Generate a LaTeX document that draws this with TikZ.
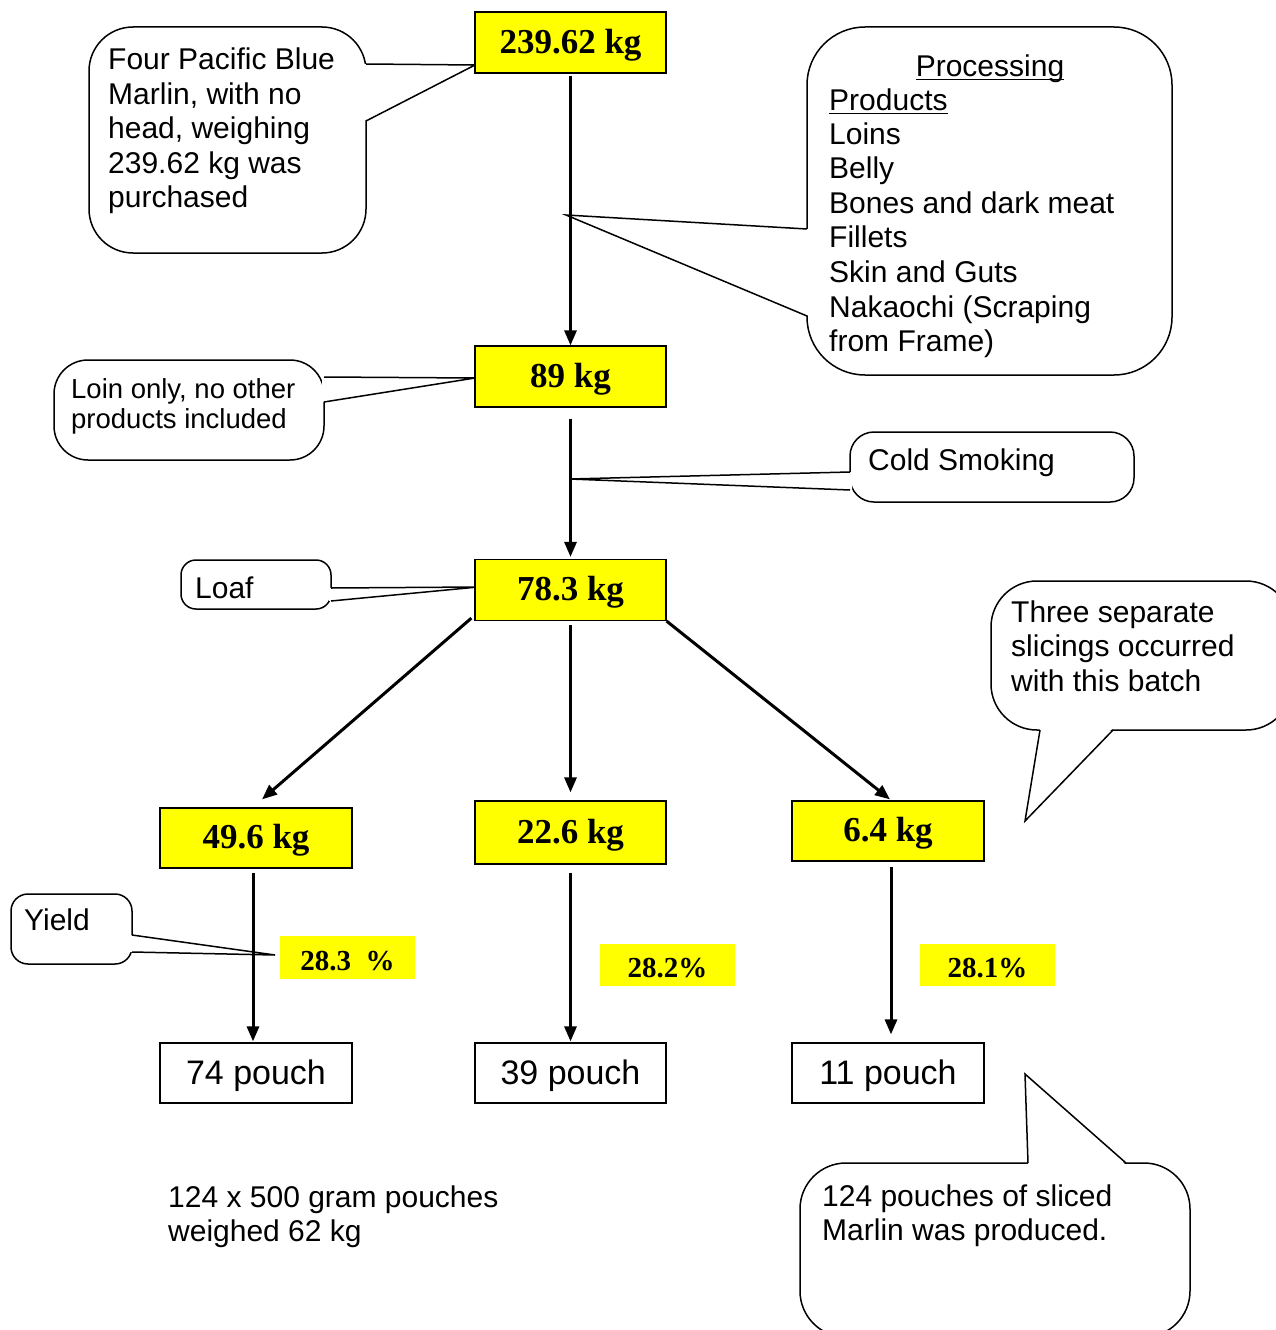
\documentclass[tikz,border=0pt]{standalone}
\usepackage{fontspec}
\setmainfont{Liberation Sans}
\newfontfamily\tnr{Liberation Serif}
\usetikzlibrary{arrows.meta}
\definecolor{ylw}{RGB}{255,255,0}
\newcommand\myul[1]{\setbox0\hbox{#1}\rlap{\rule[-4.5pt]{\wd0}{1.6pt}}\box0}
\newcommand\lines[1]{\begin{tabular}[t]{@{}l@{}}#1\end{tabular}}
\begin{document}
\begin{tikzpicture}[x=1pt,y=-1pt,
 kgbox/.style={draw=black, line width=1.2pt, fill=ylw, minimum width=191pt, minimum height=61pt, inner sep=0pt, text height=26pt, text depth=5pt, font=\tnr\bfseries\fontsize{35}{40}\selectfont},
 pouchbox/.style={draw=black, line width=1.2pt, fill=white, minimum width=192pt, minimum height=60pt, inner sep=0pt, text height=24pt, text depth=2pt, font=\fontsize{34}{40}\selectfont},
 pctbox/.style={fill=ylw, minimum width=135pt, minimum height=43pt, inner sep=0pt, text height=25pt, text depth=0pt, font=\tnr\bfseries\fontsize{29}{34}\selectfont},
 arr/.style={line width=3pt, -{Triangle[length=15pt,width=12pt]}},
 callout/.style={draw=black, line width=1.5pt, fill=white},
 wedge/.style={fill=white},
 ptr/.style={draw=black, line width=1.5pt, line join=miter},
 ctext/.style={anchor=base west, inner sep=0pt, font=\fontsize{30}{34.5}\selectfont}]
\fill[white] (0,0) rectangle (1276,1330);
\useasboundingbox (0,0) rectangle (1276,1330);

% callout 1
\draw[callout, rounded corners=44pt] (89,27) rectangle (366,253);
\fill[wedge] (364,64) -- (475,65) -- (364,121) -- cycle;
\draw[ptr] (366,64) -- (475,65) -- (366,121);
% callout 2
\draw[callout, rounded corners=58pt] (807,27) rectangle (1172,375);
\fill[wedge] (809,229) -- (566,215) -- (809,316) -- cycle;
\draw[ptr] (807,229) -- (566,215) -- (807,316);
% callout 3
\draw[callout, rounded corners=34pt] (54,360) rectangle (324,460);
\fill[wedge] (322,377) -- (475,378) -- (322,402) -- cycle;
\draw[ptr] (324,377) -- (475,378) -- (324,402);
% callout 4
\draw[callout, rounded corners=24pt] (850,432) rectangle (1134,502);
\fill[wedge] (852,472) -- (570,479) -- (852,490) -- cycle;
\draw[ptr] (850,472) -- (570,479) -- (850,490);
% callout 5
\draw[callout, rounded corners=15pt] (181,560) rectangle (331,609);
\fill[wedge] (329,588) -- (478,587) -- (329,601) -- cycle;
\draw[ptr] (331,588) -- (478,587) -- (331,601);
% callout 6
\draw[callout, rounded corners=46pt] (991,581) rectangle (1292,730);
\fill[wedge] (1113,728) -- (1025,821) -- (1040,728) -- cycle;
\draw[ptr] (1113,730) -- (1025,821) -- (1040,730);
% callout 7
\draw[callout, rounded corners=17pt] (11,894) rectangle (132,964);
\fill[wedge] (130,935) -- (275,955) -- (130,952) -- cycle;
\draw[ptr] (132,935) -- (275,955) -- (132,952);
% callout 8
\draw[callout, rounded corners=46pt] (800,1163) rectangle (1190,1337);
\fill[wedge] (1028,1165) -- (1025,1074) -- (1126,1165) -- cycle;
\draw[ptr] (1028,1163) -- (1025,1074) -- (1126,1163);

% callout texts
\node[ctext] (t1) at (108,70) {\lines{Four Pacific Blue\\Marlin, with no\\head, weighing\\239.62 kg was\\purchased}};
\node[ctext, anchor=base] (t2h) at (990,76) {\myul{Processing}};
\node[ctext] (t2) at (829,110) {\lines{\myul{Products}\\Loins\\Belly\\Bones and dark meat\\Fillets\\Skin and Guts\\Nakaochi (Scraping\\from Frame)}};
\node[ctext, font=\fontsize{27.5}{30}\selectfont] (t3) at (71,398) {\lines{Loin only, no other\\products included}};
\node[ctext] (t4) at (868,470) {Cold Smoking};
\node[ctext] (t5) at (195,598) {Loaf};
\node[ctext] (t6) at (1011,622) {\lines{Three separate\\slicings occurred\\with this batch}};
\node[ctext] (t7) at (24,930) {Yield};
\node[ctext] (t8) at (822,1206) {\lines{124 pouches of sliced\\Marlin was produced.}};
\node[ctext] (t9) at (168,1207) {\lines{124 x 500 gram pouches\\weighed 62 kg}};

% boxes
\node[kgbox] (b1) at (570.5,42.5) {239.62 kg};
\node[kgbox] (b2) at (570.5,376.5) {89 kg};
\node[kgbox] (b3) at (570.5,590) {78.3 kg};
\node[kgbox, minimum width=192pt, minimum height=60pt] (b5) at (256,838) {49.6 kg};
\node[kgbox, minimum height=63pt] (b4) at (570.5,832.5) {22.6 kg};
\node[kgbox, minimum width=192pt, minimum height=60pt] (b6) at (888,831) {6.4 kg};
\node[pouchbox] (p1) at (256,1073) {74 pouch};
\node[pouchbox, minimum width=191pt] (p2) at (570.5,1073) {39 pouch};
\node[pouchbox] (p3) at (888,1073) {11 pouch};
\node[pctbox] (y1) at (347.5,957.5) {28.3\ \ \%};
\node[pctbox, minimum height=42pt] (y2) at (667.5,965) {28.2\%};
\node[pctbox, minimum height=42pt] (y3) at (987.5,965) {28.1\%};

% arrows
\draw[arr, shorten <=2pt] (b1) -- (b2);
\draw[arr, shorten <=11pt, shorten >=2pt] (b2) -- (b3);
\draw[arr, shorten <=4pt, shorten >=8pt] (b3) -- (b4);
\draw[arr] ([xshift=-3pt,yshift=3pt]b3.south west) -- ([xshift=6pt,yshift=8pt]b5.north);
\draw[arr] (b3.south east) -- ([xshift=2pt,yshift=1pt]b6.north);
\draw[arr, shorten <=4pt, shorten >=1pt] ([xshift=-3pt]b5.south) -- ([xshift=-3pt]p1.north);
\draw[arr, shorten <=8pt, shorten >=1pt] (b4.south) -- (p2.north);
\draw[arr, shorten <=5pt, shorten >=8pt] ([xshift=3pt]b6.south) -- ([xshift=3pt]p3.north);
\end{tikzpicture}
\end{document}
